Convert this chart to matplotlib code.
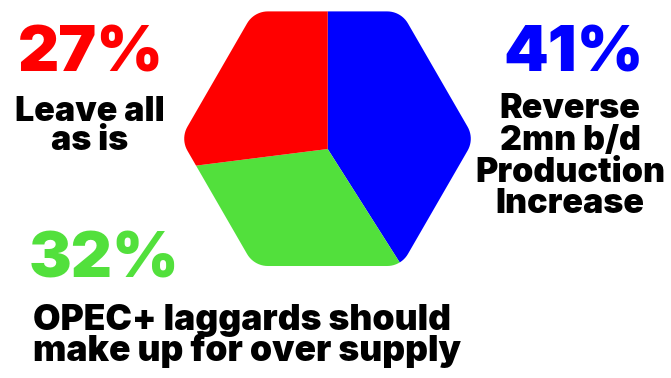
import numpy as np
import matplotlib
matplotlib.use("Agg")
import matplotlib.pyplot as plt
from matplotlib.path import Path
from matplotlib.patches import PathPatch

# ---- data ---------------------------------------------------------------
shares = [41, 32, 27]
colors = ["#0000FF", "#52E03C", "#FF0000"]
pct_labels = ["41%", "32%", "27%"]
answers = [
    ["Reverse", "2mn b/d", "Production", "Increase"],
    ["OPEC+ laggards should", "make up for over supply"],
    ["Leave all", "as is"],
]

W, H = 671, 378
FONT = "Inter"

fig = plt.figure(figsize=(W / 100, H / 100), dpi=100)
ax = fig.add_axes([0, 0, 1, 1])


def rounded_hexagon(cx, cy, R, r, n_arc=12):
    # flat-top hexagon with rounded corners
    pts = []
    for k in range(6):
        a = np.radians(60 * k)
        vx, vy = cx + R * np.cos(a), cy + R * np.sin(a)
        # corner arc centre sits inside along the vertex direction
        d = r / np.sin(np.radians(60))
        ccx, ccy = vx - d * np.cos(a), vy - d * np.sin(a)
        for t in np.linspace(a - np.radians(30), a + np.radians(30), n_arc):
            pts.append((ccx + r * np.cos(t), ccy + r * np.sin(t)))
    pts.append(pts[0])
    codes = [Path.MOVETO] + [Path.LINETO] * (len(pts) - 2) + [Path.CLOSEPOLY]
    return Path(pts, codes)


# hexagon outline and the pie centre are not quite the same point
hexpath = rounded_hexagon(327.5, H - 138.7, 147, 24)
clip = PathPatch(hexpath, transform=ax.transData, facecolor="none", edgecolor="none")

wedges, _ = ax.pie(shares, colors=colors, startangle=90, counterclock=False,
                   radius=240, center=(327.7, H - 149))
for w in wedges:
    w.set_clip_on(True)
    w.set_clip_path(clip)

ax.set_xlim(0, W)
ax.set_ylim(0, H)
ax.set_aspect("equal")
ax.axis("off")

big = dict(family=FONT, fontweight=900, fontsize=46, ha="center", va="baseline")
small = dict(family=FONT, fontweight=900, fontsize=24.5, va="baseline", color="black")

# percentages
ax.text(574, H - 72, pct_labels[0], color=colors[0], **big)
ax.text(104, H - 278, pct_labels[1], color=colors[1], **big)
ax.text(91, H - 72, pct_labels[2], color=colors[2], **big)

# answer texts
for line, yb in zip(answers[0], [118, 150, 182, 213]):
    ax.text(570, H - yb, line, ha="center", **small)
for line, yb in zip(answers[1], [330, 361]):
    ax.text(33, H - yb, line, ha="left", **{**small, "fontsize": 25.5})
for line, yb in zip(answers[2], [121, 150]):
    ax.text(90, H - yb, line, ha="center", **small)

fig.savefig("out.png", dpi=100)
